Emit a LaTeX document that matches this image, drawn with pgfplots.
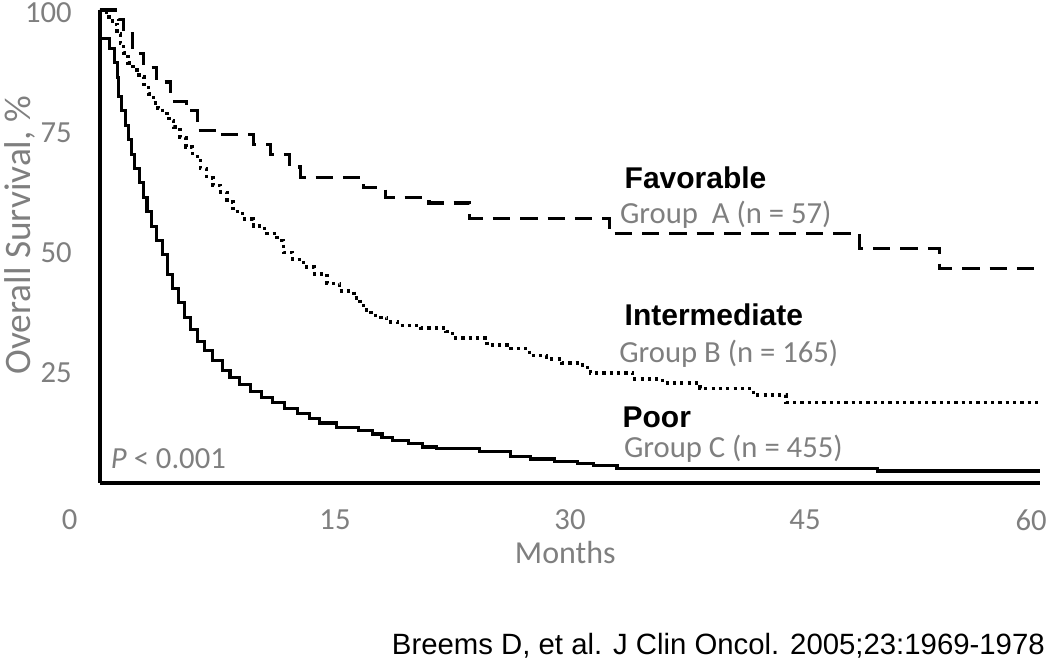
\documentclass[border=0pt]{standalone}
\usepackage{pgfplots}
\pgfplotsset{compat=1.18}
\usepackage{fontspec}
\setmainfont{Carlito}
\newfontfamily\arial{Liberation Sans}
\definecolor{lblgray}{HTML}{7F7F7F}

% Kaplan-Meier steps: months, survival %
\pgfplotstableread{
t v
0 100
1.2 98
1.5 95
2.1 91
2.8 88
3.6 85
4.5 81
5.5 79
6.2 75
7.5 74
9.8 72
10.9 70
12.1 67.3
12.8 65.2
16.8 63
18.2 61
21 59.8
23.6 56.6
32.5 53.5
48.5 50.4
53.6 46.2
60 46.2
}\favorable
\pgfplotstableread{
t v
0 100
0.4 98.5
0.8 97
1.1 95
1.3 93
1.5 91
1.8 89
2.1 87.5
2.5 86
2.8 84.5
3.1 82.5
3.4 80.6
3.7 79.5
4.0 78.5
4.4 77
4.7 75.6
5.1 73.5
5.5 71.5
5.9 69.5
6.4 67
6.8 65
7.2 63.5
7.7 62
8.1 60
8.5 58
9.1 56.5
9.8 55
10.5 53.5
11.3 52
11.7 49.5
12.3 48
13.0 46.5
13.7 45
14.5 43
15.3 41.5
16.2 40
16.6 38.5
17.0 37
17.6 36
18.3 35
19.0 34.3
20.5 33.8
22.1 33
22.5 31.7
24.7 30.2
26.0 29.5
27.4 28
28.5 27.3
29.5 26.5
30.8 25.6
31.3 24.4
34 23.2
35.9 22.3
38.3 21.2
41.7 19.8
43.8 18.3
60 18.3
}\intermediate
\pgfplotstableread{
t v
0 100
0.05 94
0.6 92
0.9 89
1.1 86
1.2 82
1.4 79
1.6 76
1.8 73
2.0 70
2.2 67
2.5 64
2.8 61
3.0 58
3.3 55
3.6 52
4.0 49
4.3 45
4.6 42
5.0 39
5.4 36
5.8 33.5
6.2 31
6.7 29
7.2 27
7.8 25
8.3 23.5
8.9 22
9.6 20.5
10.3 19.3
11.0 18.2
11.8 17
12.6 16
13.4 15
14.0 14
15.1 13
16.5 12.5
17.4 11.7
18.0 11
18.7 10.4
19.7 9.7
20.6 9
21.5 8.6
24.2 8
26.2 7
27.5 6.5
29.0 6
30.5 5.6
31.5 5.2
33.0 4.5
49.6 4.0
60 4.0
}\poor

\begin{document}
\begin{tikzpicture}[x=0.75pt,y=0.75pt]
\path[use as bounding box] (0,0) rectangle (1050,663);
\begin{axis}[
    at={(75pt,135pt)}, anchor=south west,
    scale only axis, width=705pt, height=354.75pt,
    xmin=0, xmax=60, ymin=1.5, ymax=100,
    clip=false,
    axis lines=left,
    axis line style={-, line width=2.4pt, black},
    xtick={0,15,30,45,60},
    xticklabels={\makebox[0pt][r]{0\hspace{17pt}},15,30,45,\makebox[0pt][r]{60\hspace{-5pt}}},
    ytick={25,50,75,100},
    major tick length=0pt, tick style={draw=none},
    /pgf/number format/assume math mode=true,
    tick label style={font=\fontsize{23}{27}\selectfont, text=lblgray},
    yticklabel style={inner sep=0pt, xshift=-21pt, yshift=-2.2pt},
    xticklabel style={inner sep=0pt, yshift=-20pt},
    xlabel={Months}, ylabel={Overall Survival, \%},
    xlabel style={font=\fontsize{24}{28}\selectfont, text=lblgray,
        at={(axis description cs:0.495,-0.148)}, anchor=center},
    ylabel style={font=\fontsize{28}{32}\selectfont, text=lblgray,
        at={(axis description cs:-0.085,0.524)}, anchor=center},
    every axis plot/.append style={black, line width=2.3pt, const plot},
]
\addplot[dash pattern=on 13pt off 7.5pt] table[x=t, y=v] {\favorable};
\addplot[line width=2.6pt, dash pattern=on 2.4pt off 3.1pt] table[x=t, y=v] {\intermediate};
\addplot[solid] table[x=t, y=v] {\poor};

\node[anchor=base west, font=\arial\bfseries\fontsize{22.5}{26}\selectfont] at (axis cs:33.19,62.93) {Favorable};
\node[anchor=base west, text=lblgray, font=\fontsize{23}{27}\selectfont] at (axis cs:32.9,55.64) {Group~ A (n = 57)};
\node[anchor=base west, font=\arial\bfseries\fontsize{22.5}{26}\selectfont] at (axis cs:33.19,34.40) {Intermediate};
\node[anchor=base west, text=lblgray, font=\fontsize{23}{27}\selectfont] at (axis cs:32.85,26.49) {Group B (n = 165)};
\node[anchor=base west, font=\arial\bfseries\fontsize{22.5}{26}\selectfont] at (axis cs:33.06,13.16) {Poor};
\node[anchor=base west, text=lblgray, font=\fontsize{23}{27}\selectfont] at (axis cs:33.15,6.91) {Group C (n = 455)};
\node[anchor=base west, text=lblgray, font=\fontsize{23}{27}\selectfont] at (axis cs:0.4,4.62) {\textit{P} < 0.001};
\end{axis}
\node[anchor=base east, inner sep=0pt, font=\arial\fontsize{22}{26}\selectfont] at (1045,8) {Breems D, et al. J Clin Oncol. 2005;23:1969-1978};
\end{tikzpicture}
\end{document}
